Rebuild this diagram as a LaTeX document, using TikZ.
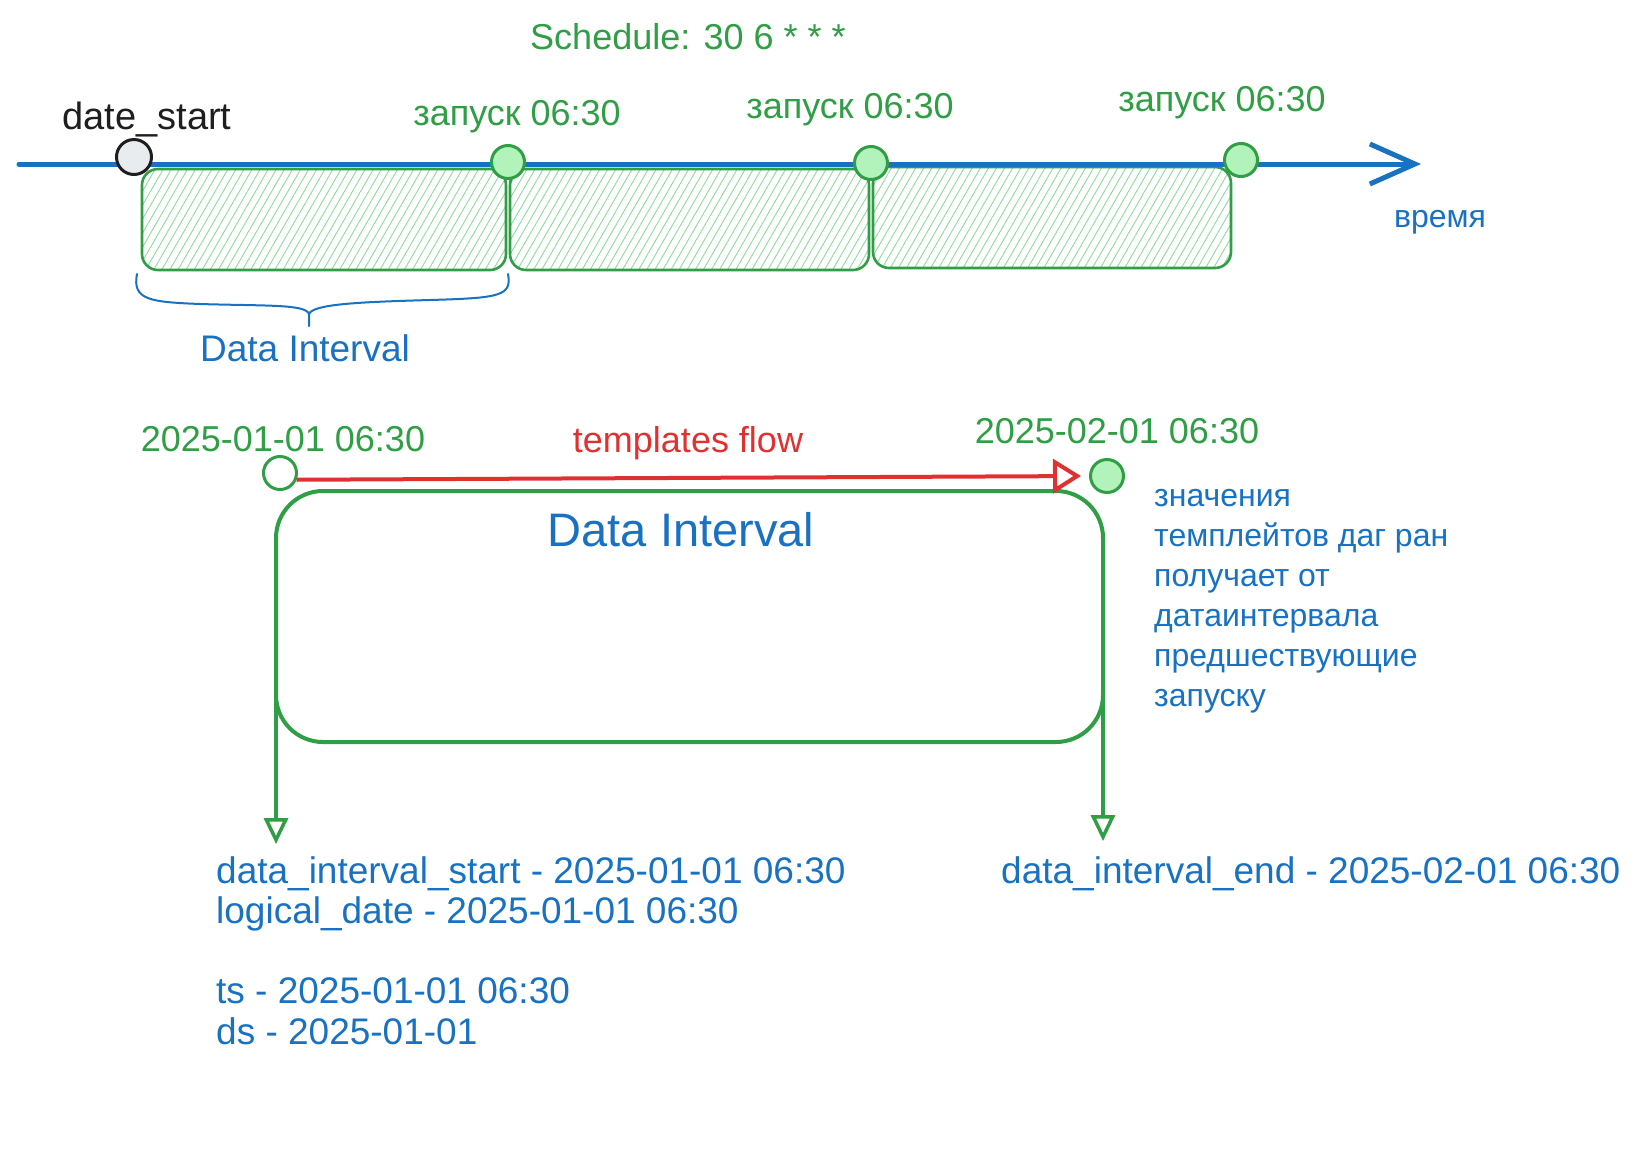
\documentclass[tikz,border=0pt]{standalone}
\usepackage{fontspec}
\setmainfont{Liberation Sans}
\usetikzlibrary{arrows.meta,patterns.meta}
\definecolor{exblue}{HTML}{1971C2}
\definecolor{exgreen}{HTML}{2F9E44}
\definecolor{exlgreen}{HTML}{B2F2BB}
\definecolor{exhatch}{HTML}{8EDC9E}
\definecolor{exred}{HTML}{E03131}
\definecolor{exgray}{HTML}{E9ECEF}
\definecolor{exblack}{HTML}{1E1E1E}
\begin{document}
\begin{tikzpicture}[x=1pt,y=-1pt,
  lbl/.style={inner sep=0pt, anchor=base, font=\fontsize{36}{43}\selectfont},
  lblw/.style={inner sep=0pt, anchor=base west, font=\fontsize{37}{44}\selectfont},
  note/.style={inner sep=0pt, anchor=base west, font=\fontsize{32}{40}\selectfont, text=exblue},
  hbox/.style={draw=exgreen, line width=2.6pt, rounded corners=16pt,
    pattern={Lines[angle=60,distance=7pt,line width=0.9pt]}, pattern color=exhatch,
    minimum height=101pt, inner sep=0pt},
  gdot/.style={circle, draw=exgreen, fill=exlgreen, line width=3pt, minimum size=33pt, inner sep=0pt},
  odot/.style={circle, draw=exgreen, fill=white, line width=3pt, minimum size=33pt, inner sep=0pt},
  kdot/.style={circle, draw=exblack, fill=exgray, line width=3pt, minimum size=35pt, inner sep=0pt},
  garrow/.style={exgreen, line width=3.5pt, -{Triangle[open,length=26pt,width=24pt]}},
]
\useasboundingbox[fill=white] (0,0) rectangle (1638,1152);

% ---------- top timeline ----------
\node[lbl, text=exgreen] (sched) at (688,49) {Schedule: 30 6 * * *};

\node[hbox, minimum width=364pt] (b1) at (324,219.5) {};
\node[hbox, minimum width=359pt] (b2) at (689.5,219.5) {};
\node[hbox, minimum width=358pt] (b3) at (1052,217.5) {};

\coordinate (tl0) at (19,164);
\coordinate (tl1) at (1421,164);
\draw[exblue, line width=5pt, line cap=round, -{Straight Barb[length=45pt,width=40pt]}] (tl0) -- (tl1);

\node[kdot] (ds) at (134,157) {};
\node[gdot] (r1) at (508,162) {};
\node[gdot] (r2) at (871,163) {};
\node[gdot] (r3) at (1241,160) {};

\node[lbl, text=exblack, font=\fontsize{38}{45}\selectfont] (dsl) at (147,129) {date\_start};
\node[lbl, text=exgreen] (r1l) at (517,125) {запуск 06:30};
\node[lbl, text=exgreen] (r2l) at (850,118) {запуск 06:30};
\node[lbl, text=exgreen] (r3l) at (1222,111) {запуск 06:30};
\node[lbl, text=exblue, font=\fontsize{32}{40}\selectfont] (vr) at (1440,227) {время};

% brace
\draw[exblue, line width=2pt, line cap=round]
  (137,274) .. controls (132,300) and (150,302) .. (200,304)
  .. controls (265,306) and (306,304) .. (309,314) -- (309,326);
\draw[exblue, line width=2pt, line cap=round]
  (309,314) .. controls (313,304) and (360,302) .. (430,300)
  .. controls (500,298) and (512,296) .. (508,274);
\node[lbl, text=exblue, font=\fontsize{37}{44}\selectfont] (dil) at (305,361) {Data Interval};

% ---------- lower part ----------
\node[lbl, text=exgreen] (d1l) at (283,451) {2025-01-01 06:30};
\node[lbl, text=exgreen] (d2l) at (1117,443) {2025-02-01 06:30};
\node[lbl, text=exred] (tfl) at (688,452) {templates flow};

\node[draw=exgreen, line width=4pt, rounded corners=47pt, minimum width=827pt, minimum height=251pt, inner sep=0pt] (dibox) at (689.5,616.5) {};
\node[lbl, text=exblue, font=\fontsize{47}{56}\selectfont] (dit) at (681,546) {Data Interval};

\node[odot] (s0) at (280,473) {};
\node[gdot] (s1) at (1107,476) {};
\draw[exred, line width=4pt, -{Triangle[open,length=28pt,width=34pt]}, shorten >=8pt] (s0.-22) -- (s1.west);

\coordinate (la) at (276,695);
\coordinate (lb) at (276,844);
\coordinate (ra) at (1103,695);
\coordinate (rb) at (1103,841);
\draw[garrow] (la) -- (lb);
\draw[garrow] (ra) -- (rb);

\node[lblw, text=exblue] (t1) at (216,883) {data\_interval\_start - 2025-01-01 06:30};
\node[lblw, text=exblue] (t2) at (216,923) {logical\_date - 2025-01-01 06:30};
\node[lblw, text=exblue] (t3) at (216,1003) {ts - 2025-01-01 06:30};
\node[lblw, text=exblue] (t4) at (216,1044) {ds - 2025-01-01};
\node[lblw, text=exblue] (t5) at (1001,883) {data\_interval\_end - 2025-02-01 06:30};

\node[note] (n1) at (1154,506) {значения};
\node[note] (n2) at (1154,546) {темплейтов даг ран};
\node[note] (n3) at (1154,586) {получает от};
\node[note] (n4) at (1154,626) {датаинтервала};
\node[note] (n5) at (1154,666) {предшествующие};
\node[note] (n6) at (1154,706) {запуску};
\end{tikzpicture}
\end{document}
